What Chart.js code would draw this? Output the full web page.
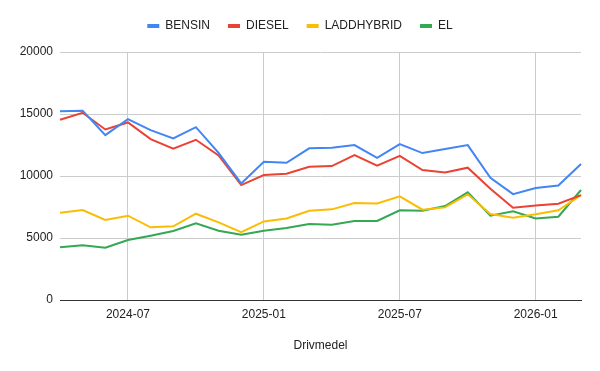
<!DOCTYPE html>
<html>
<head>
<meta charset="utf-8">
<script src="https://cdn.jsdelivr.net/npm/chart.js@4/dist/chart.umd.min.js"></script>
<style>
    html, body { margin: 0; padding: 0; background: #fff; }
    #wrap { width: 600px; height: 371px; position: relative; }
</style>
</head>
<body>
<div id="wrap"><canvas id="fuelChart"></canvas></div>
<script>
    // månader (x-axel)
    const months = [
        '2024-04', '2024-05', '2024-06', '2024-07', '2024-08', '2024-09',
        '2024-10', '2024-11', '2024-12', '2025-01', '2025-02', '2025-03',
        '2025-04', '2025-05', '2025-06', '2025-07', '2025-08', '2025-09',
        '2025-10', '2025-11', '2025-12', '2026-01', '2026-02', '2026-03'
    ];
    const bensin = [15230, 15270, 13300, 14590, 13700, 13030, 13940, 11870, 9400, 11150, 11070, 12230,
        12280, 12490, 11470, 12570, 11850, 12170, 12490, 9860, 8540, 9030, 9240, 10960];
    const diesel = [14530, 15100, 13750, 14320, 12980, 12200, 12920, 11660, 9270, 10075, 10180, 10750,
        10800, 11690, 10830, 11630, 10480, 10290, 10670, 8970, 7440, 7630, 7760, 8460];
    const laddhybrid = [7040, 7250, 6450, 6800, 5860, 5940, 6960, 6260, 5480, 6340, 6580, 7190,
        7310, 7820, 7790, 8360, 7280, 7470, 8520, 6930, 6640, 6910, 7230, 8460];
    const el = [4250, 4410, 4220, 4840, 5190, 5560, 6180, 5590, 5270, 5590, 5800, 6130,
        6070, 6370, 6370, 7230, 7200, 7580, 8680, 6800, 7150, 6580, 6720, 8870];
    const yTicks = [0, 5000, 10000, 15000, 20000];

    const colors = {
        blue: '#4285F4',
        red: '#EA4335',
        yellow: '#FBBC04',
        green: '#34A853'
    };
    const fontFamily = '"Liberation Sans", Arial, sans-serif';

    // bara januari och juli visas på x-axeln
    const isMajor = (i) => /-(01|07)$/.test(months[i]);

    function lineSet(label, data, color) {
        return {
            label: label,
            data: data,
            borderColor: color,
            backgroundColor: color,
            borderWidth: 2,
            pointRadius: 0,
            pointHoverRadius: 0,
            tension: 0,
            xAxisID: 'x',
            yAxisID: 'y'
        };
    }

    // tomma axlar som bara ger luft (ovanför och till höger om ritytan)
    const spacerAxis = (type, position, size) => ({
        type: type,
        position: position,
        display: true,
        grid: { display: false, drawTicks: false },
        border: { display: false },
        ticks: { display: false },
        afterFit: function (scale) {
            if (scale.isHorizontal()) scale.height = size;
            else scale.width = size;
        }
    });

    const lineData = {
        labels: months,
        datasets: [
            lineSet('BENSIN', bensin, colors.blue),
            lineSet('DIESEL', diesel, colors.red),
            lineSet('LADDHYBRID', laddhybrid, colors.yellow),
            lineSet('EL', el, colors.green)
        ]
    };

    const lineOptions = {
        responsive: true,
        maintainAspectRatio: false,
        animation: false,
        layout: {
            padding: { top: 2, right: 0, left: 0, bottom: 0 }
        },
        plugins: {
            legend: {
                display: true,
                position: 'top',
                labels: {
                    color: '#222',
                    font: { family: fontFamily, size: 12 },
                    boxWidth: 12,
                    boxHeight: 4,
                    padding: 18,
                    generateLabels: function (chart) {
                        const items = Chart.defaults.plugins.legend.labels.generateLabels(chart);
                        items.forEach(item => { item.lineWidth = 0; });
                        return items;
                    }
                }
            },
            tooltip: { enabled: false }
        },
        scales: {
            x: {
                type: 'category',
                offset: false,
                grid: {
                    drawTicks: false,
                    color: (ctx) => isMajor(ctx.index) ? '#cccccc' : 'rgba(0,0,0,0)'
                },
                border: { display: true, color: '#333333', width: 1 },
                ticks: {
                    autoSkip: false,
                    maxRotation: 0,
                    padding: 7,
                    color: '#222',
                    font: { family: fontFamily, size: 12 },
                    callback: function (value, index) {
                        return isMajor(index) ? months[index] : '';
                    }
                },
                title: {
                    display: true,
                    text: 'Drivmedel',
                    color: '#222',
                    font: { family: fontFamily, size: 12 },
                    padding: { top: 4, bottom: 18 }
                },
                afterFit: function (scale) {
                    scale.height = 71;
                }
            },
            xTop: spacerAxis('category', 'top', 10),
            y: {
                min: 0,
                max: 20000,
                afterBuildTicks: function (scale) {
                    scale.ticks = yTicks.map(v => ({ value: v }));
                },
                grid: {
                    drawTicks: false,
                    color: '#cccccc'
                },
                border: { display: false },
                ticks: {
                    padding: 7,
                    color: '#222',
                    font: { family: fontFamily, size: 12 },
                    callback: (value) => String(value)
                },
                afterFit: function (scale) {
                    scale.width = 60;
                }
            },
            yRight: spacerAxis('linear', 'right', 19)
        }
    };

    const fuelChart = new Chart(
        document.getElementById('fuelChart'),
        { type: 'line', data: lineData, options: lineOptions }
    );
</script>
</body>
</html>
